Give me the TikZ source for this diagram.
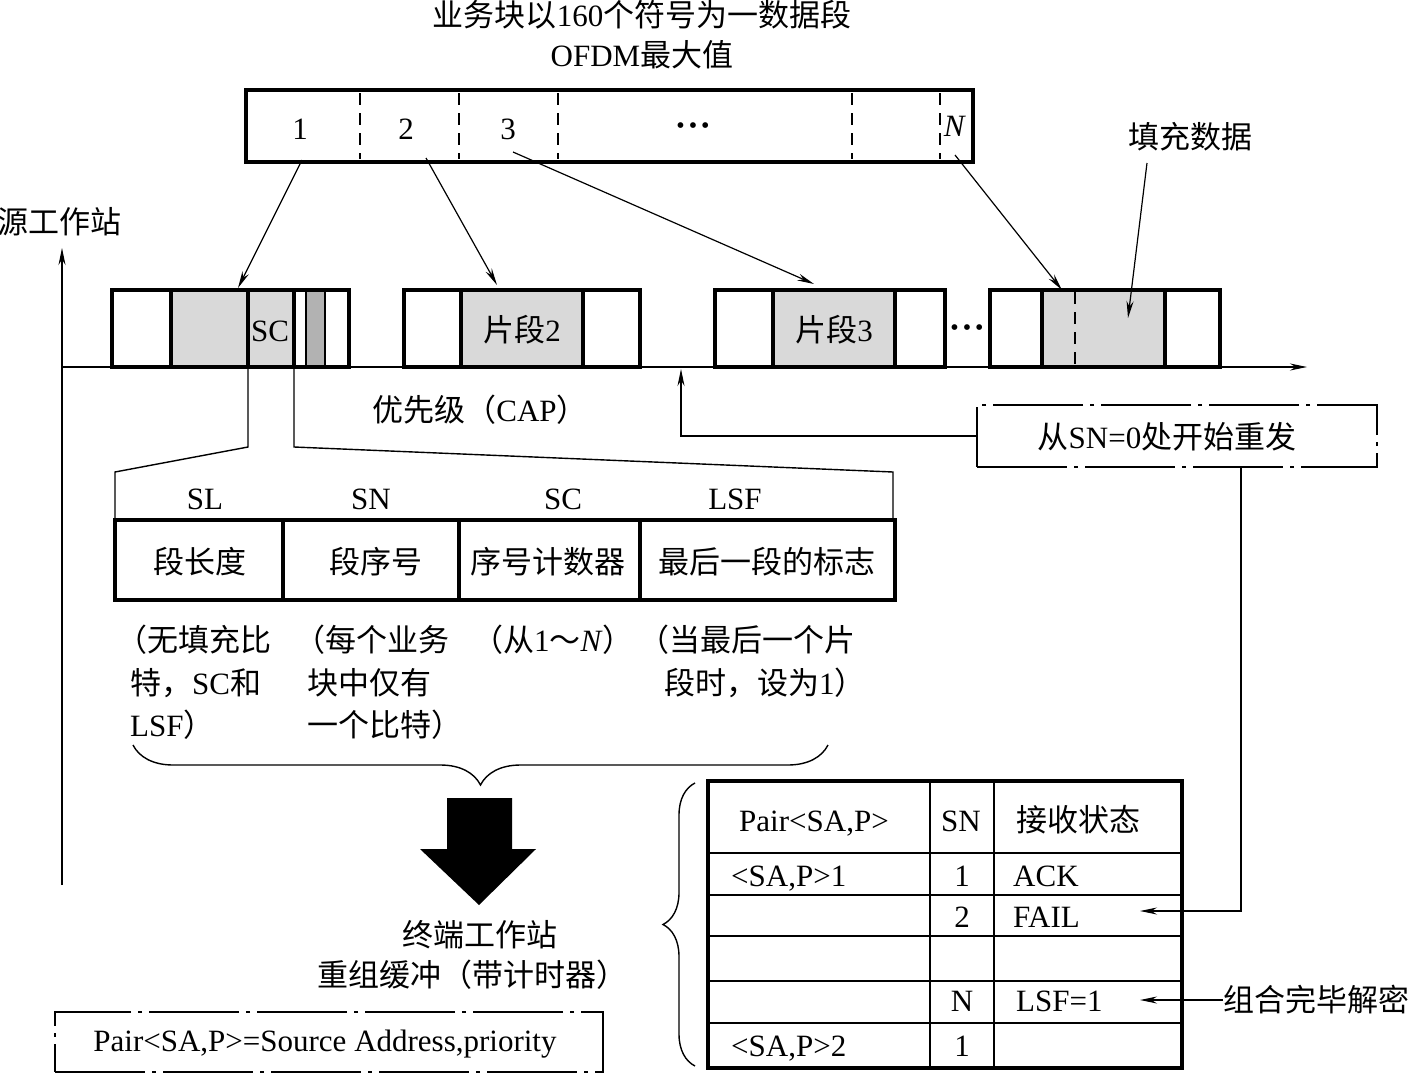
\documentclass[tikz,border=0pt]{standalone}
\usepackage{fontspec}
\setmainfont{Liberation Serif}
\newfontfamily\cjk{Noto Sans CJK SC}
\usetikzlibrary{decorations.pathreplacing,arrows.meta}
\newcommand\zh[1]{{\cjk #1}}
\newcommand\bigdots{{\fontsize{24}{24}\selectfont\textbullet\hspace{4pt}\textbullet\hspace{4pt}\textbullet}}
\begin{document}
\begin{tikzpicture}[x=1pt,y=-1pt,
  txt/.style={font=\fontsize{31}{42}\selectfont, inner sep=0pt, text height=25pt, text depth=3pt},
  tbox/.style={line width=3.2pt},
  ln/.style={line width=1.4pt},
  arr/.style={line width=1.2pt,-{Stealth[length=17pt,width=7pt]}},
  dashdot/.style={line width=1.4pt, dash pattern=on 90pt off 7pt on 4pt off 7pt},
  lgray/.style={fill=gray!30},
  dgray/.style={fill=gray!60},
]
\useasboundingbox (0,0) rectangle (1409,1074);

% ---------- title ----------
\node[txt] (title1) at (642,15) {\zh{业务块以}160\zh{个符号为一数据段}};
\node[txt] (title2) at (642,55) {OFDM\zh{最大值}};

% ---------- top OFDM block ----------
\draw[tbox] (246,90) rectangle (973,162);
\foreach \x in {360,459,558,852,940}
  \draw[ln, dash pattern=on 12pt off 8pt] (\x,93) -- (\x,159);
\node[txt] (d1) at (300,128) {1};
\node[txt] (d2) at (406,128) {2};
\node[txt] (d3) at (508,128) {3};
\node[txt] (dd) at (693,122) {\bigdots};
\node[txt] (dN) at (955,125) {\textit{N}};

% ---------- axes ----------
\coordinate (vbot) at (62,885);
\coordinate (vtop) at (62,248);
\coordinate (hend) at (1307,367);
\draw[arr] (vbot) -- (vtop);
\draw[arr] (62,367) -- (hend);
\node[txt] (src) at (60,222) {\zh{源工作站}};

% ---------- segment group 1 ----------
\fill[lgray] (171,290) rectangle (294,367);
\fill[dgray] (306,290) rectangle (325,367);
\draw[tbox] (112,290) rectangle (349,367);
\draw[tbox] (171,290) -- (171,367);
\draw[tbox] (248,290) -- (248,367);
\draw[tbox] (294,290) -- (294,367);
\draw[ln] (306,290) -- (306,367);
\draw[ln] (325,290) -- (325,367);
\node[txt] (sc) at (270,330) {SC};

% ---------- segment group 2 ----------
\fill[lgray] (461,290) rectangle (583,367);
\draw[tbox] (404,290) rectangle (640,367);
\draw[tbox] (461,290) -- (461,367);
\draw[tbox] (583,290) -- (583,367);
\node[txt] (seg2) at (522,330) {\zh{片段}2};

% ---------- segment group 3 ----------
\fill[lgray] (773,290) rectangle (895,367);
\draw[tbox] (715,290) rectangle (945,367);
\draw[tbox] (773,290) -- (773,367);
\draw[tbox] (895,290) -- (895,367);
\node[txt] (seg3) at (834,330) {\zh{片段}3};
\node[txt] (sdots) at (967,324) {\bigdots};

% ---------- segment group 4 ----------
\fill[lgray] (1042,290) rectangle (1165,367);
\draw[tbox] (990,290) rectangle (1220,367);
\draw[tbox] (1042,290) -- (1042,367);
\draw[tbox] (1165,290) -- (1165,367);
\draw[ln, dash pattern=on 12pt off 8pt] (1075,292) -- (1075,365);
\node[txt] (fill) at (1190,137) {\zh{填充数据}};

% ---------- arrows block -> segments ----------
\coordinate (a1s) at (302,160); \coordinate (a1e) at (238,288);
\coordinate (a2s) at (426,158); \coordinate (a2e) at (497,285);
\coordinate (a3s) at (513,152); \coordinate (a3e) at (814,284);
\coordinate (a4s) at (955,155); \coordinate (a4e) at (1062,290);
\coordinate (f1s) at (1147,163); \coordinate (f1e) at (1128,318);
\draw[arr] (a1s) -- (a1e);
\draw[arr] (a2s) -- (a2e);
\draw[arr] (a3s) -- (a3e);
\draw[arr] (a4s) -- (a4e);
\draw[arr] (f1s) -- (f1e);

\node[txt] (cap) at (480,410) {\zh{优先级（}CAP\zh{）}};

% ---------- retransmit box ----------
\node[draw, dashdot, minimum width=400pt, minimum height=62pt, inner sep=0pt] (retx) at (1177,436) {};
\node[txt] (retxt) at (1167,437) {\zh{从}SN=0\zh{处开始重发}};
\coordinate (axp) at (681,369);
\draw[arr] (retx.west) -| (axp);
\coordinate (rs) at (1241,467);
\coordinate (failp) at (1140,911);
\draw[arr] (rs) |- (failp);

% ---------- SC expansion ----------
\draw[ln] (248,367) -- (248,447) -- (115,472) -- (115,520);
\draw[ln] (294,367) -- (294,447) -- (893,472) -- (893,520);

% ---------- field table ----------
\draw[tbox] (115,520) rectangle (895,600);
\draw[tbox] (283,520) -- (283,600);
\draw[tbox] (459,520) -- (459,600);
\draw[tbox] (640,520) -- (640,600);
\node[txt] (hSL) at (205,498) {SL};
\node[txt] (hSN) at (371,498) {SN};
\node[txt] (hSC) at (563,498) {SC};
\node[txt] (hLSF) at (735,498) {LSF};
\node[txt] (c1) at (200,562) {\zh{段长度}};
\node[txt] (c2) at (376,562) {\zh{段序号}};
\node[txt] (c3) at (548,562) {\zh{序号计数器}};
\node[txt] (c4) at (767,562) {\zh{最后一段的标志}};

% ---------- notes ----------
\node[txt, anchor=west] (n11) at (116,640) {\zh{（无填充比}};
\node[txt, anchor=west] (n12) at (130,683) {\zh{特，}SC\zh{和}};
\node[txt, anchor=west] (n13) at (130,725) {LSF\zh{）}};
\node[txt, anchor=west] (n21) at (294,640) {\zh{（每个业务}};
\node[txt, anchor=west] (n22) at (307,683) {\zh{块中仅有}};
\node[txt, anchor=west] (n23) at (307,725) {\zh{一个比特）}};
\node[txt, anchor=west] (n31) at (472,640) {\zh{（从}1\zh{～}\textit{N}\zh{）}};
\node[txt, anchor=west] (n41) at (638,640) {\zh{（当最后一个片}};
\node[txt, anchor=west] (n42) at (664,683) {\zh{段时，设为}1\zh{）}};

% ---------- brace and big arrow ----------
\coordinate (br1) at (828,745);
\coordinate (br2) at (133,745);
\draw[ln, decorate, decoration={brace, amplitude=40pt}] (br1) -- (br2);
\fill (447,798) -- (512,798) -- (512,849) -- (536,849) -- (479,905) -- (420,849) -- (447,849) -- cycle;
\node[txt] (dst1) at (480,935) {\zh{终端工作站}};
\node[txt] (dst2) at (472,975) {\zh{重组缓冲（带计时器）}};

% ---------- legend box ----------
\node[draw, dashdot, minimum width=548pt, minimum height=60pt, inner sep=0pt] (legend) at (329,1042) {};
\node[txt] (legtxt) at (325,1040) {Pair<SA,P>=Source Address,priority};

% ---------- reassembly table ----------
\foreach \y in {853,895,936,981,1023}
  \draw[ln] (708,\y) -- (1182,\y);
\draw[ln] (930,781) -- (930,1068);
\draw[ln] (994,781) -- (994,1068);
\draw[tbox] (708,781) rectangle (1182,1068);
\node[txt] (t00) at (814,820) {Pair<SA,P>};
\node[txt] (t01) at (961,820) {SN};
\node[txt] (t02) at (1078,820) {\zh{接收状态}};
\node[txt, anchor=west] (t10) at (731,875) {<SA,P>1};
\node[txt] (t11) at (962,875) {1};
\node[txt, anchor=west] (t12) at (1013,875) {ACK};
\node[txt] (t21) at (962,916) {2};
\node[txt, anchor=west] (t22) at (1013,916) {FAIL};
\node[txt] (t41) at (962,1000) {N};
\node[txt, anchor=west] (t42) at (1016,1000) {LSF=1};
\node[txt, anchor=west] (t50) at (731,1045) {<SA,P>2};
\node[txt] (t51) at (962,1045) {1};
\coordinate (tb1) at (695,1066);
\coordinate (tb2) at (695,783);
\draw[ln, decorate, decoration={brace, amplitude=32pt}] (tb1) -- (tb2);

\node[txt] (comb) at (1316,1000) {\zh{组合完毕解密}};
\coordinate (lsfp) at (1140,1000);
\draw[arr] (comb.west) -- (lsfp);
\end{tikzpicture}
\end{document}
